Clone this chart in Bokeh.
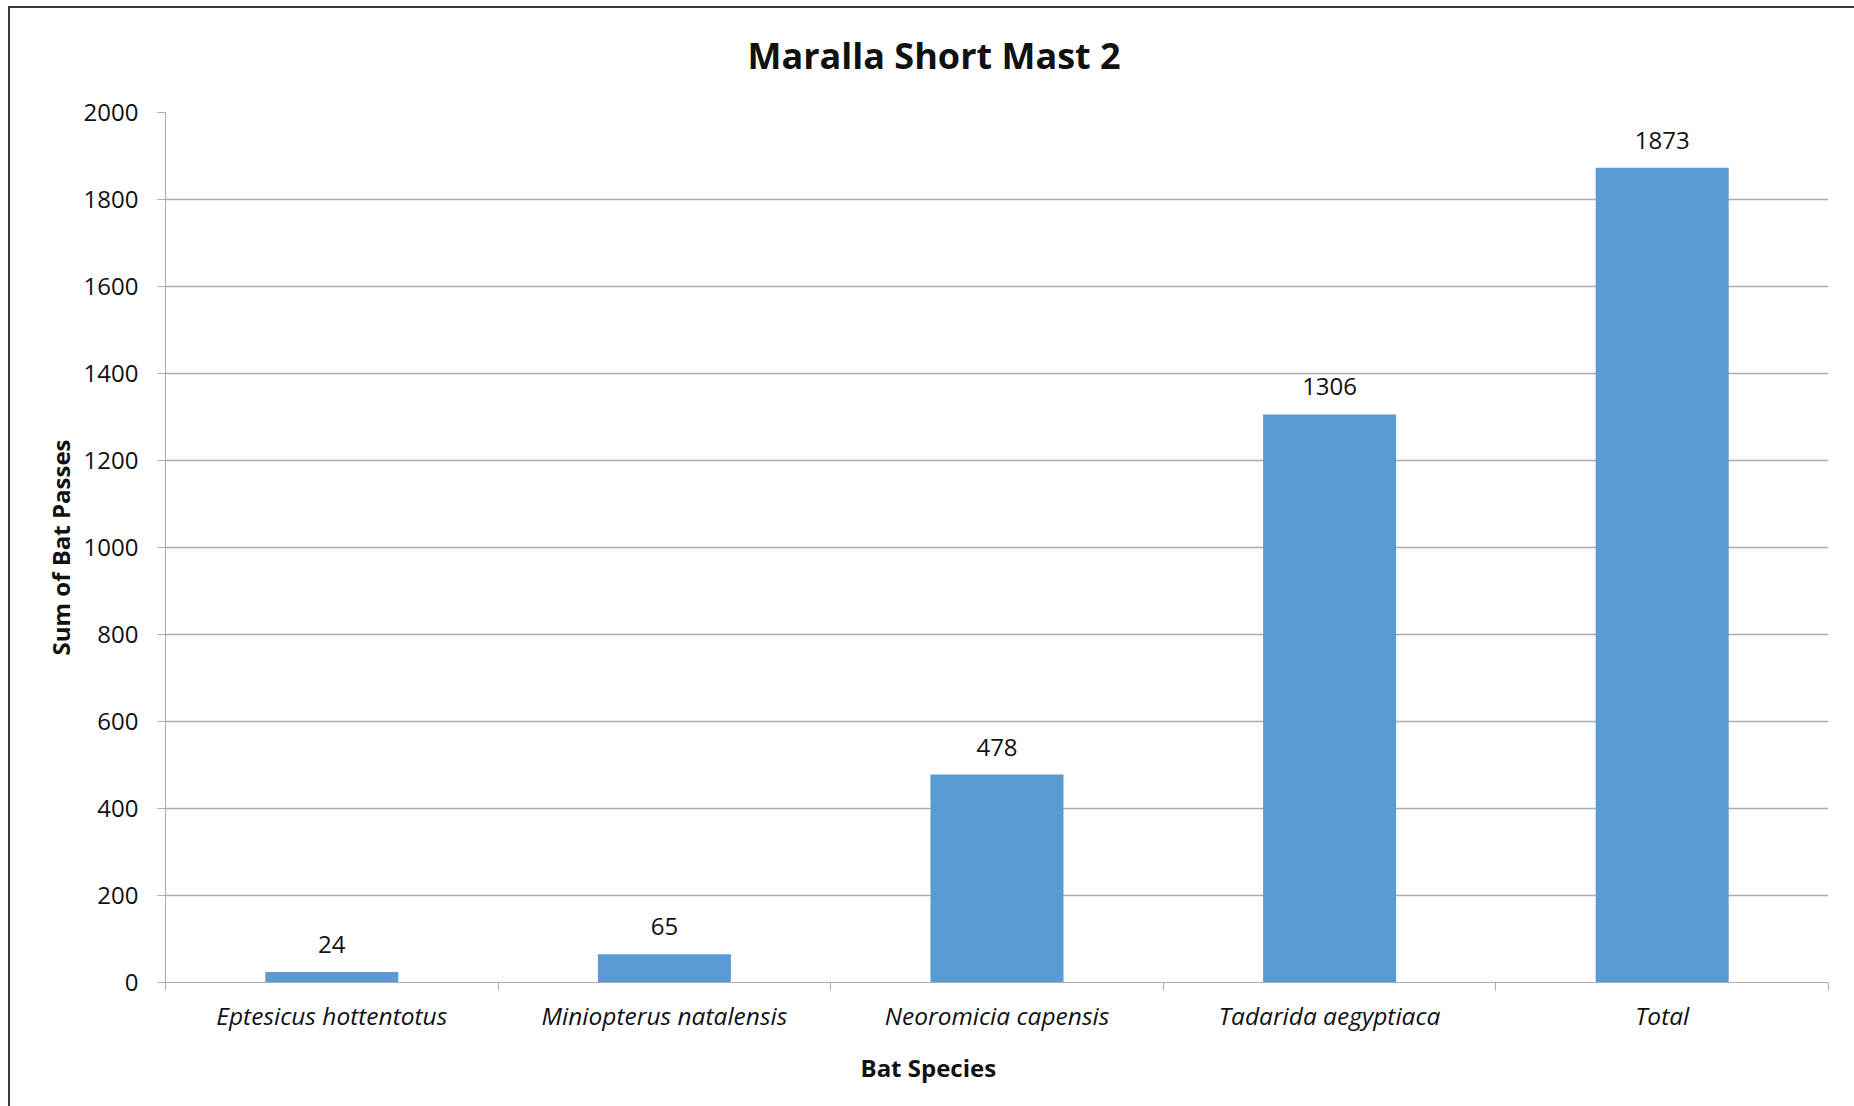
from bokeh.plotting import figure
from bokeh.models import FixedTicker, Title, ColumnDataSource, LabelSet, Range1d
from bokeh.core.properties import value
from bokeh.embed import file_html
from bokeh.resources import INLINE

# ---- data ----
species = ["Eptesicus hottentotus", "Miniopterus natalensis", "Neoromicia capensis",
           "Tadarida aegyptiaca", "Total"]
bat_passes = [24, 65, 478, 1306, 1873]
y_ticks = [0, 200, 400, 600, 800, 1000, 1200, 1400, 1600, 1800, 2000]
chart_title = "Maralla Short Mast 2"
x_title = "Bat Species"
y_title = "Sum of Bat Passes"

FONT = "Open Sans"
GRID = "#ababab"
BAR = "#5B9BD5"
TXT = "#111111"
EDGE = "#3a3a3a"

xs = [i + 0.5 for i in range(len(species))]
bounds = list(range(len(species) + 1))
source = ColumnDataSource(dict(x=xs, top=bat_passes, label=[str(v) for v in bat_passes]))

p = figure(width=1844, height=1111,
           x_range=Range1d(0, len(species)), y_range=Range1d(0, y_ticks[-1]),
           output_backend="svg", toolbar_location=None,
           min_border_left=155, min_border_right=26,
           min_border_top=117, min_border_bottom=124)
# chart-area border (left and top edges) drawn with box shadows
p.styles = {"margin-left": "10px", "margin-top": "-5px",
            "box-shadow": f"inset 0 11px 0 0 #ffffff, inset 0 13px 0 0 {EDGE}, -2px 11px 0 0 {EDGE}"}
p.outline_line_color = None
p.background_fill_color = "white"
p.border_fill_color = None

p.vbar(x="x", top="top", width=0.4, source=source, fill_color=BAR, line_color=None)

labels = LabelSet(x="x", y="top", text="label", source=source,
                  text_align="center", text_baseline="alphabetic", y_offset=19,
                  text_font=value(FONT), text_font_size="24px", text_color=TXT)
p.add_layout(labels)

# title (left-aligned with an offset so it sits centred over the whole chart area)
p.title.text = chart_title
p.title.align = "left"
p.title.offset = 582
p.title.text_font = FONT
p.title.text_font_size = "36px"
p.title.text_font_style = "bold"
p.title.text_color = TXT
p.title.standoff = 66

# y axis
ya = p.yaxis[0]
ya.ticker = FixedTicker(ticks=y_ticks)
ya.major_tick_out = 8
ya.major_tick_in = 0
ya.minor_tick_out = 0
ya.minor_tick_in = 0
ya.axis_line_color = GRID
ya.major_tick_line_color = GRID
ya.major_label_text_font = FONT
ya.major_label_text_font_size = "24px"
ya.major_label_text_color = TXT
ya.major_label_standoff = 19
ya.axis_label = y_title
ya.axis_label_text_font = FONT
ya.axis_label_text_font_size = "24px"
ya.axis_label_text_font_style = "bold"
ya.axis_label_text_color = TXT
ya.axis_label_standoff = 4

# x axis
xa = p.xaxis[0]
xa.ticker = FixedTicker(ticks=xs, minor_ticks=bounds)
xa.major_label_overrides = {x: s for x, s in zip(xs, species)}
xa.major_tick_out = 0
xa.major_tick_in = 0
xa.minor_tick_out = 8
xa.minor_tick_in = 0
xa.minor_tick_line_color = GRID
xa.axis_line_color = GRID
xa.major_label_text_font = FONT
xa.major_label_text_font_size = "24.5px"
xa.major_label_text_font_style = "italic"
xa.major_label_text_color = TXT
xa.major_label_standoff = 8

p.add_layout(Title(text=x_title, align="left", offset=695, text_font=FONT,
                   text_font_size="24px", text_font_style="bold", text_color=TXT,
                   standoff=28), "below")

p.xgrid.grid_line_color = None
p.ygrid.ticker = FixedTicker(ticks=y_ticks)
p.ygrid.grid_line_color = GRID
p.ygrid.grid_line_width = 1.3

open("out.html", "w").write(file_html(p, INLINE))
